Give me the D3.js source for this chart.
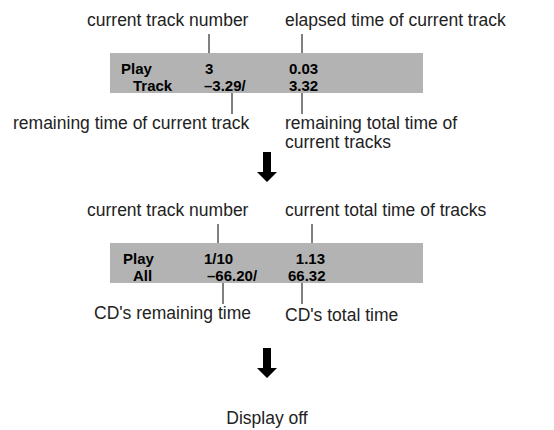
<!DOCTYPE html>
<html lang="en">
<head>
<meta charset="utf-8">
<title>Display modes</title>
<script src="https://d3js.org/d3.v7.min.js"></script>
<style>
  body { margin: 0; background: #fff; }
  .lbl { font-family: "Liberation Sans", Arial, sans-serif; font-size: 17.5px; fill: #222; }
  .disp { font-family: "Liberation Sans", Arial, sans-serif; font-size: 15px; font-weight: bold; fill: #000; }
</style>
</head>
<body>
<div id="dataviz"></div>
<script>

// display panels: two rows of text each
var panelTop = [53, 243];
var row1 = [["Play", "3", "0.03"], ["Play", "1/10", "1.13"]];
var row2 = [["Track", "\u20133.29/", "3.32"], ["All", "\u201366.20/", "66.32"]];

// callout labels above and below each panel
var topLabels = [["current track number", "elapsed time of current track"],
                 ["current track number", "current total time of tracks"]];
var bottomLabels = [["remaining time of current track", "remaining total time of|current tracks"],
                    ["CD's remaining time", "CD's total time"]];
var topLeaderX = [[209, 302], [218, 312]];
var bottomLeaderX = [[232, 302], [223, 302]];

var arrowTop = [152, 348];
var finalText = "Display off";

var width = 554, height = 430;

var svg = d3.select("#dataviz")
  .append("svg")
  .attr("width", width)
  .attr("height", height);

// pixel scale for panel columns
var x = d3.scaleLinear().domain([0, 1]).range([110, 423]);
var boxH = 40;

panelTop.forEach(function(top, i) {
  var g = svg.append("g");

  g.append("rect")
    .attr("x", x(0)).attr("y", top)
    .attr("width", x(1) - x(0)).attr("height", boxH)
    .attr("fill", "#b3b3b3");

  // row 1
  var c1 = i == 0 ? [121, 205, 289] : [123, 204, 325];
  row1[i].forEach(function(t, j) {
    g.append("text").attr("class", "disp")
      .attr("x", c1[j]).attr("y", top + 21)
      .attr("text-anchor", (i == 1 && j == 2) ? "end" : "start")
      .text(t);
  });
  var c2 = i == 0 ? [133, 204, 289] : [133, 207, 288];
  row2[i].forEach(function(t, j) {
    g.append("text").attr("class", "disp")
      .attr("x", c2[j]).attr("y", top + 38)
      .text(t);
  });

  // leaders above
  topLeaderX[i].forEach(function(lx) {
    g.append("line")
      .attr("x1", lx).attr("x2", lx)
      .attr("y1", top - 19).attr("y2", top)
      .attr("stroke", "#000").attr("stroke-width", 1);
  });
  bottomLeaderX[i].forEach(function(lx) {
    g.append("line")
      .attr("x1", lx).attr("x2", lx)
      .attr("y1", top + boxH).attr("y2", top + boxH + 21)
      .attr("stroke", "#000").attr("stroke-width", 1);
  });

  // labels
  var tx = [87, 285];
  topLabels[i].forEach(function(t, j) {
    g.append("text").attr("class", "lbl")
      .attr("x", tx[j]).attr("y", top - 27)
      .text(t);
  });
  var bx = i == 0 ? [13, 285] : [94, 285];
  bottomLabels[i].forEach(function(t, j) {
    var lines = t.split("|");
    var txt = g.append("text").attr("class", "lbl")
      .attr("x", bx[j]).attr("y", top + boxH + 36 + (i == 1 && j == 1 ? 2 : 0));
    lines.forEach(function(l, k) {
      txt.append("tspan").attr("x", bx[j]).attr("dy", k == 0 ? 0 : 19).text(l);
    });
  });
});

// down arrows
arrowTop.forEach(function(y0) {
  var cx = 267;
  svg.append("path")
    .attr("d", d3.line()([
      [cx - 4, y0], [cx + 4, y0], [cx + 4, y0 + 20], [cx + 10, y0 + 20],
      [cx, y0 + 30], [cx - 10, y0 + 20], [cx - 4, y0 + 20]
    ]) + "Z")
    .attr("fill", "#000");
});

svg.append("text").attr("class", "lbl")
  .attr("x", 267).attr("y", 424)
  .attr("text-anchor", "middle")
  .text(finalText);

</script>
</body>
</html>
